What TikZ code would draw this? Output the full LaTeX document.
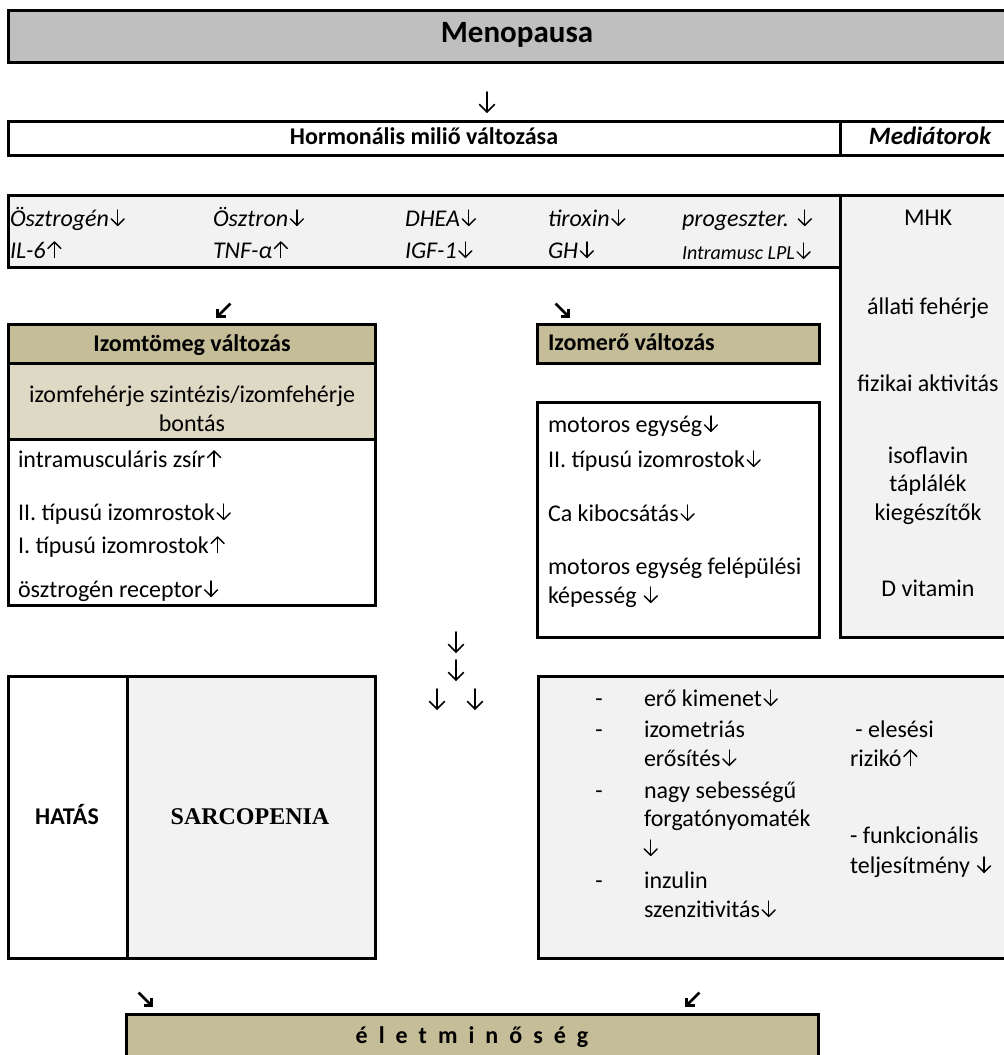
\documentclass[tikz,border=0pt]{standalone}
\usepackage{fontspec}
\setmainfont{Carlito}
\newfontfamily\timesfont{Liberation Serif}
\tikzset{arrstroke/.style={draw=black, line width=1.4pt, line cap=round, line join=round}}
\newcommand{\dn}{\hspace{1.5pt}\tikz[baseline=0pt]{\draw[arrstroke] (0pt,16pt)--(0pt,0.7pt); \draw[arrstroke] (-6.5pt,7.2pt)--(0pt,0.7pt)--(6.5pt,7.2pt);}\hspace{1pt}}
\newcommand{\up}{\hspace{1.5pt}\tikz[baseline=0pt]{\draw[arrstroke] (0pt,0.5pt)--(0pt,16pt); \draw[arrstroke] (-6.5pt,9.5pt)--(0pt,16pt)--(6.5pt,9.5pt);}\hspace{1pt}}
\newcommand{\bigdn}{\tikz[baseline=0pt]{\draw[arrstroke, line width=1.7pt] (0pt,10pt)--(0pt,-10pt); \draw[arrstroke, line width=1.7pt] (-7.5pt,-2.5pt)--(0pt,-10pt)--(7.5pt,-2.5pt);}}
\newcommand{\swarr}{\tikz[baseline=0pt]{\draw[draw=black, line width=2.8pt] (7pt,7pt)--(-5pt,-5pt); \draw[draw=black, line width=2.8pt, miter limit=4] (-6pt,2pt)--(-6pt,-6pt)--(2pt,-6pt);}}
\newcommand{\searr}{\tikz[baseline=0pt]{\draw[draw=black, line width=2.8pt] (-7pt,7pt)--(5pt,-5pt); \draw[draw=black, line width=2.8pt, miter limit=4] (6pt,2pt)--(6pt,-6pt)--(-2pt,-6pt);}}
\newcommand{\ls}{\hspace{11pt}}
\definecolor{menogray}{HTML}{BFBFBF}
\definecolor{lightgray}{HTML}{F2F2F2}
\definecolor{tan}{HTML}{C4BD97}
\definecolor{lighttan}{HTML}{DDD9C4}
\begin{document}
\begin{tikzpicture}[x=1pt,y=-1pt,
  every node/.style={inner sep=0pt, outer sep=0pt, font=\fontsize{24}{29}\selectfont, text height=17pt, text depth=5pt},
  frame/.style={draw=black, line width=3pt},
  lt/.style={anchor=west},
  ct/.style={anchor=center},
  it/.style={font=\fontsize{24}{29}\selectfont\itshape},
  bf/.style={font=\fontsize{24}{29}\selectfont\bfseries},
  arrnode/.style={anchor=center, text height={}, text depth={}}]
\clip (0,0) rectangle (1004,1055);
\fill[white] (0,0) rectangle (1004,1055);

% Menopausa
\draw[frame, fill=menogray] (8,10) rectangle (1026,62);
\node[ct, font=\fontsize{31}{36}\selectfont\bfseries] (meno) at (517,36) {Menopausa};
\node[arrnode] (a1) at (487,102) {\bigdn};

% Hormonalis
\draw[frame] (8,121) rectangle (840,155);
\draw[frame] (840,121) rectangle (1020,155);
\node[ct, bf] (horm) at (424,138) {Hormonális miliő változása};
\node[ct, font=\fontsize{25}{29}\selectfont\bfseries\itshape] (med) at (930,138) {Mediátorok};

% Mediator column + hormone table
\draw[frame, fill=lightgray] (840,195) rectangle (1020,637);
\draw[frame, fill=lightgray] (8,195) rectangle (840,267);
\node[lt, it] (h1) at (10,220) {Ösztrogén\dn};
\node[lt, it] (h2) at (213,220) {Ösztron\dn};
\node[lt, it] (h3) at (405,220) {DHEA\dn};
\node[lt, it] (h4) at (548,220) {tiroxin\dn};
\node[lt, it] (h5) at (682,220) {progeszter. \dn};
\node[lt, it] (h6) at (10,252) {IL-6\up};
\node[lt, it] (h7) at (213,252) {TNF-\textit{α}\up};
\node[lt, it] (h8) at (405,252) {IGF-1\dn};
\node[lt, it] (h9) at (548,252) {GH\dn};
\node[lt, font=\fontsize{20}{24}\selectfont\itshape] (h10) at (682,253) {Intramusc LPL\dn};

\node[ct] (m1) at (928,219) {MHK};
\node[ct] (m2) at (928,308) {állati fehérje};
\node[ct] (m3) at (928,385) {fizikai aktivitás};
\node[ct] (m4a) at (928,457) {isoflavin};
\node[ct] (m4b) at (928,485) {táplálék};
\node[ct] (m4c) at (928,514) {kiegészítők};
\node[ct] (m5) at (928,590) {D vitamin};

% diagonal arrows
\node[arrnode] (a2) at (224,310) {\swarr};
\node[arrnode] (a3) at (562,310) {\searr};

% Izomtomeg
\draw[frame, fill=tan] (8,324) rectangle (375,363);
\draw[frame, fill=lighttan] (8,363) rectangle (375,439);
\draw[frame, fill=white] (8,439) rectangle (375,605);
\node[ct, bf] (it) at (192,345) {Izomtömeg változás};
\node[ct] (its1) at (192,396) {izomfehérje szintézis/izomfehérje};
\node[ct] (its2) at (192,425) {bontás};
\node[lt] (l1) at (18,461) {intramusculáris zsír\up};
\node[lt] (l2) at (18,514) {II. típusú izomrostok\dn};
\node[lt] (l3) at (18,547) {I. típusú izomrostok\up};
\node[lt] (l4) at (18,591) {ösztrogén receptor\dn};

% Izomero
\draw[frame, fill=tan] (537,324) rectangle (819,363);
\node[lt, bf] (ie) at (548,344) {Izomerő változás};
\draw[frame, fill=white] (537,402) rectangle (819,637);
\node[lt] (r1) at (548,426) {motoros egység\dn};
\node[lt] (r2) at (548,461) {II. típusú izomrostok\dn};
\node[lt] (r3) at (548,515) {Ca kibocsátás\dn};
\node[lt] (r4) at (548,568) {motoros egység felépülési};
\node[lt] (r5) at (548,597) {képesség \dn};

% middle arrows
\node[arrnode] (b1) at (456,642) {\bigdn};
\node[arrnode] (b2) at (456,670) {\bigdn};
\node[arrnode] (b3) at (437,699) {\bigdn};
\node[arrnode] (b4) at (475,699) {\bigdn};

% Hatas / Sarcopenia
\draw[frame, fill=white] (8,676) rectangle (127,958);
\draw[frame, fill=lightgray] (127,676) rectangle (375,958);
\node[ct, bf] (hat) at (67,818) {HATÁS};
\node[ct, font=\fontsize{24}{28}\selectfont\timesfont\bfseries] (sar) at (250,818) {SARCOPENIA};

% effects box
\draw[frame, fill=lightgray] (538,676) rectangle (1020,958);
\node[ct] (d1) at (599,700) {-};
\node[ct] (d2) at (599,731) {-};
\node[ct] (d3) at (599,792) {-};
\node[ct] (d4) at (599,882) {-};
\node[lt] (e1) at (644,700) {erő kimenet\dn};
\node[lt] (e2) at (644,731) {izometriás};
\node[lt] (e3) at (644,760) {erősítés\dn};
\node[lt] (e4) at (644,792) {nagy sebességű};
\node[lt] (e5) at (644,820) {forgatónyomaték};
\node[lt] (e6) at (642,850) {\dn};
\node[lt] (e7) at (644,882) {inzulin};
\node[lt] (e8) at (644,911) {szenzitivitás\dn};
\node[lt] (f1) at (850,731) {\ - elesési};
\node[lt] (f2) at (850,760) {rizikó\up};
\node[lt] (f3) at (850,837) {- funkcionális};
\node[lt] (f4) at (850,867) {teljesítmény \dn};

% bottom
\node[arrnode] (c1) at (145,999) {\searr};
\node[arrnode] (c2) at (693,999) {\swarr};
\draw[frame, fill=tan] (126,1014) rectangle (818,1075);
\node[ct, bf] (elet) at (472,1037) {é\ls l\ls e\ls t\ls m\ls i\ls n\ls ő\ls s\ls é\ls g};
\end{tikzpicture}
\end{document}
